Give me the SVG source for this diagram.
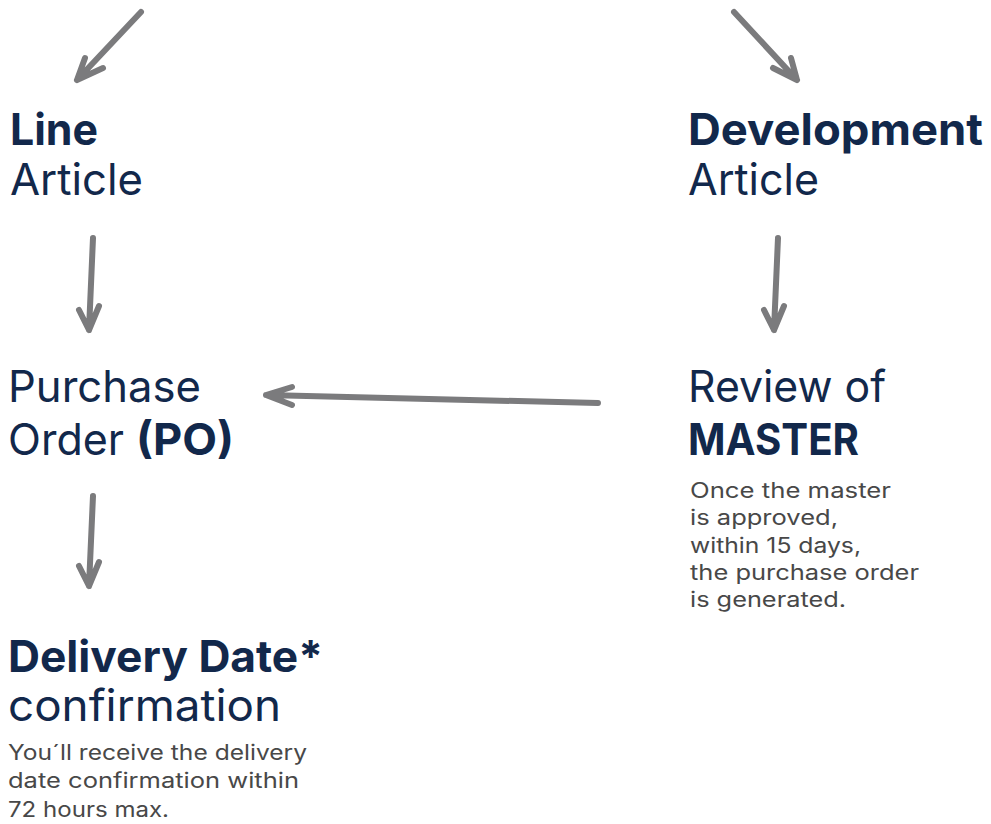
<svg xmlns="http://www.w3.org/2000/svg" width="991" height="824" viewBox="0 0 991 824">
<style>
.h{font-family:Inter,"Noto Sans",sans-serif;font-size:44px;fill:#12284b}
.b{font-weight:700}
.r{font-weight:400}
.t{font-family:Inter,"Noto Sans",sans-serif;font-size:21px;fill:#484848}
.a{fill:none;stroke:#7b7b7d;stroke-width:6;stroke-linecap:round;stroke-linejoin:round}
</style>
<rect width="991" height="824" fill="#ffffff"/>
<g id="connectors">
<path class="a" d="M141 12 L77 80 M85 58 L77 80 L103 68"/>
<path class="a" d="M734 12 L797 80 M791 58 L797 80 L773 68"/>
<path class="a" d="M93 238 L89 330 M79 310 L89 330 L99 306"/>
<path class="a" d="M778 238 L774 330 M764 310 L774 330 L784 306"/>
<path class="a" d="M93 496 L89 586 M79 566 L89 586 L99 562"/>
<path class="a" d="M598 403 L266 395 M292 387 L266 395 L292 405"/>
</g>
<g id="line-article">
<text class="h b" x="10" y="145" textLength="88" lengthAdjust="spacingAndGlyphs">Line</text>
<text class="h r" x="10" y="195" textLength="133" lengthAdjust="spacingAndGlyphs">Article</text>
</g>
<g id="development-article">
<text class="h b" x="688" y="145" textLength="295" lengthAdjust="spacingAndGlyphs">Development</text>
<text class="h r" x="688" y="195" textLength="131" lengthAdjust="spacingAndGlyphs">Article</text>
</g>
<g id="purchase-order">
<text class="h r" x="8" y="402" textLength="193" lengthAdjust="spacingAndGlyphs">Purchase</text>
<text class="h r" x="8" y="455" textLength="116" lengthAdjust="spacingAndGlyphs">Order</text>
<text class="h b" x="136" y="455" textLength="98" lengthAdjust="spacingAndGlyphs">(PO)</text>
</g>
<g id="review-master">
<text class="h r" x="688" y="402" textLength="198" lengthAdjust="spacingAndGlyphs">Review of</text>
<text class="h b" x="688" y="455" textLength="171" lengthAdjust="spacingAndGlyphs">MASTER</text>
<text class="t" x="690" y="498" textLength="201" lengthAdjust="spacingAndGlyphs">Once the master</text>
<text class="t" x="690" y="525" textLength="148" lengthAdjust="spacingAndGlyphs">is approved,</text>
<text class="t" x="690" y="553" textLength="171" lengthAdjust="spacingAndGlyphs">within 15 days,</text>
<text class="t" x="690" y="580" textLength="229" lengthAdjust="spacingAndGlyphs">the purchase order</text>
<text class="t" x="690" y="607" textLength="156" lengthAdjust="spacingAndGlyphs">is generated.</text>
</g>
<g id="delivery-date">
<text class="h b" x="8" y="672" textLength="315" lengthAdjust="spacingAndGlyphs">Delivery Date*</text>
<text class="h r" x="8" y="721" textLength="273" lengthAdjust="spacingAndGlyphs">confirmation</text>
<text class="t" x="8" y="760" textLength="299" lengthAdjust="spacingAndGlyphs">You´ll receive the delivery</text>
<text class="t" x="8" y="788" textLength="291" lengthAdjust="spacingAndGlyphs">date confirmation within</text>
<text class="t" x="8" y="817" textLength="161" lengthAdjust="spacingAndGlyphs">72 hours max.</text>
</g>
</svg>
